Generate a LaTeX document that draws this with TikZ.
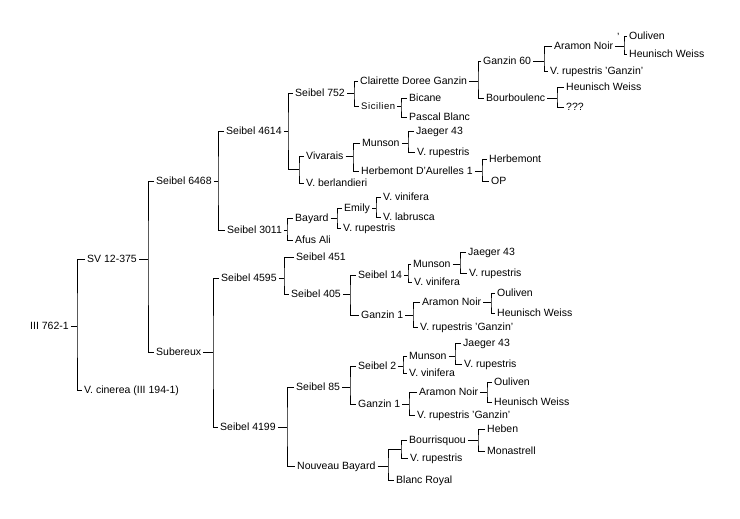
\documentclass[tikz,border=0pt]{standalone}
\usepackage{fontspec}
\setmainfont{Liberation Sans}
\newfontfamily\sicfont[LetterSpace=6]{Liberation Sans}
\newcommand\famtree[4]{\draw[ln] (#1.east) -- (#2); \draw[ln] (#3.west) -| (#2) |- (#4.west);}
\begin{document}
\begin{tikzpicture}[x=1pt,y=-1pt,
 lbl/.style={anchor=west, xshift=-2pt, inner xsep=2pt, inner ysep=0pt, text height=7.5pt, text depth=0pt, font=\fontsize{10.5}{12}\selectfont},
 sic/.style={lbl, font=\sicfont\fontsize{9.5}{11}\selectfont},
 ln/.style={draw=black, line width=0.9pt}]
\fill[white] (0,0) rectangle (740,519);
\useasboundingbox (0,0) rectangle (740,519);
% nodes
\node[lbl] (r) at (30,326) {III 762-1};
\node[lbl] (sv) at (87,259) {SV 12-375};
\node[lbl] (cin) at (84,390) {V. cinerea (III 194-1)};
\node[lbl] (s6468) at (156,181) {Seibel 6468};
\node[lbl] (sub) at (156,352) {Subereux};
\node[lbl] (s4614) at (226,131) {Seibel 4614};
\node[lbl] (s3011) at (227,230) {Seibel 3011};
\node[lbl] (s752) at (295,93) {Seibel 752};
\coordinate (x1) at (299,169);
\node[lbl] (viv) at (306,156) {Vivarais};
\node[lbl] (vber) at (306,183) {V. berlandieri};
\node[lbl] (cdg) at (360,81) {Clairette Doree Ganzin};
\node[sic] (sicn) at (361,106) {Sicilien};
\node[lbl] (g60) at (483,61) {Ganzin 60};
\node[lbl] (bou) at (486,98) {Bourboulenc};
\node[lbl] (an1) at (554,46) {Aramon Noir};
\node[lbl] (vrg1) at (550,71) {V. rupestris 'Ganzin'};
\node[lbl] (ou1) at (629,36) {Ouliven};
\node[lbl] (hw1) at (629,54) {Heunisch Weiss};
\node[lbl] (apos) at (617,37) {'};
\node[lbl] (hw2) at (566,87) {Heunisch Weiss};
\node[lbl] (qqq) at (566,107) {???};
\node[lbl] (bic) at (409,98) {Bicane};
\node[lbl] (pb) at (409,117) {Pascal Blanc};
\node[lbl] (mun1) at (362,143) {Munson};
\node[lbl] (hda) at (361,171) {Herbemont D'Aurelles 1};
\node[lbl] (j1) at (416,131) {Jaeger 43};
\node[lbl] (vr1) at (417,152) {V. rupestris};
\node[lbl] (hb) at (489,159) {Herbemont};
\node[lbl] (op) at (491,181) {OP};
\node[lbl] (bay) at (295,218) {Bayard};
\node[lbl] (afa) at (295,240) {Afus Ali};
\node[lbl] (emi) at (344,208) {Emily};
\node[lbl] (vr2) at (343,228) {V. rupestris};
\node[lbl] (vv1) at (383,197) {V. vinifera};
\node[lbl] (vl) at (383,217) {V. labrusca};
\node[lbl] (s4595) at (221,278) {Seibel 4595};
\node[lbl] (s4199) at (220,427) {Seibel 4199};
\node[lbl] (s451) at (296,257) {Seibel 451};
\node[lbl] (s405) at (291,294) {Seibel 405};
\node[lbl] (s14) at (358,275) {Seibel 14};
\node[lbl] (gz1) at (361,315) {Ganzin 1};
\node[lbl] (mun2) at (413,264) {Munson};
\node[lbl] (vv2) at (414,282) {V. vinifera};
\node[lbl] (j2) at (468,252) {Jaeger 43};
\node[lbl] (vr3) at (469,273) {V. rupestris};
\node[lbl] (an2) at (422,302) {Aramon Noir};
\node[lbl] (vrg2) at (420,327) {V. rupestris 'Ganzin'};
\node[lbl] (ou2) at (497,293) {Ouliven};
\node[lbl] (hw3) at (497,313) {Heunisch Weiss};
\node[lbl] (s85) at (296,387) {Seibel 85};
\node[lbl] (nb) at (297,466) {Nouveau Bayard};
\node[lbl] (s2) at (358,366) {Seibel 2};
\node[lbl] (gz2) at (358,404) {Ganzin 1};
\node[lbl] (mun3) at (409,356) {Munson};
\node[lbl] (vv3) at (409,373) {V. vinifera};
\node[lbl] (j3) at (463,343) {Jaeger 43};
\node[lbl] (vr4) at (464,364) {V. rupestris};
\node[lbl] (an3) at (419,392) {Aramon Noir};
\node[lbl] (vrg3) at (417,415) {V. rupestris 'Ganzin'};
\node[lbl] (ou3) at (494,382) {Ouliven};
\node[lbl] (hw4) at (494,402) {Heunisch Weiss};
\coordinate (x2) at (401,449);
\node[lbl] (br2) at (396,480) {Blanc Royal};
\node[lbl] (bour) at (409,440) {Bourrisquou};
\node[lbl] (vr5) at (410,458) {V. rupestris};
\node[lbl] (heb) at (487,429) {Heben};
\node[lbl] (mon) at (487,451) {Monastrell};
% bracket points
\coordinate (br) at (77,326);
\coordinate (bsv) at (148,259);
\coordinate (b6468) at (218,181);
\coordinate (b4614) at (288,131);
\coordinate (b752) at (354,93);
\coordinate (bcdg) at (478,81);
\coordinate (bg60) at (544,61);
\coordinate (ban1) at (624,46);
\coordinate (bbou) at (557,98);
\coordinate (bsic) at (401,106);
\coordinate (bviv) at (353,156);
\coordinate (bmun1) at (408,143);
\coordinate (bhda) at (482,171);
\coordinate (b3011) at (287,230);
\coordinate (bbay) at (337,218);
\coordinate (bemi) at (376,208);
\coordinate (bsub) at (213,352);
\coordinate (b4595) at (284,278);
\coordinate (b405) at (350,294);
\coordinate (b14) at (408,275);
\coordinate (bmun2) at (460,264);
\coordinate (bgz1) at (413,315);
\coordinate (ban2) at (491,302);
\coordinate (b4199) at (287,427);
\coordinate (b85) at (350,387);
\coordinate (bs2) at (403,366);
\coordinate (bmun3) at (455,356);
\coordinate (bgz2) at (409,404);
\coordinate (ban3) at (487,392);
\coordinate (bnb) at (388,466);
\coordinate (bbour) at (478,440);
% connectors
\famtree{r}{br}{sv}{cin}
\famtree{sv}{bsv}{s6468}{sub}
\famtree{s6468}{b6468}{s4614}{s3011}
\draw[ln] (s4614.east) -- (b4614); \draw[ln] (s752.west) -| (b4614) |- (x1);
\draw[ln] (viv.west) -| (x1) |- (vber.west);
\famtree{s752}{b752}{cdg}{sicn}
\famtree{cdg}{bcdg}{g60}{bou}
\famtree{g60}{bg60}{an1}{vrg1}
\famtree{an1}{ban1}{ou1}{hw1}
\famtree{bou}{bbou}{hw2}{qqq}
\famtree{sicn}{bsic}{bic}{pb}
\famtree{viv}{bviv}{mun1}{hda}
\famtree{mun1}{bmun1}{j1}{vr1}
\famtree{hda}{bhda}{hb}{op}
\famtree{s3011}{b3011}{bay}{afa}
\famtree{bay}{bbay}{emi}{vr2}
\famtree{emi}{bemi}{vv1}{vl}
\famtree{sub}{bsub}{s4595}{s4199}
\famtree{s4595}{b4595}{s451}{s405}
\famtree{s405}{b405}{s14}{gz1}
\famtree{s14}{b14}{mun2}{vv2}
\famtree{mun2}{bmun2}{j2}{vr3}
\famtree{gz1}{bgz1}{an2}{vrg2}
\famtree{an2}{ban2}{ou2}{hw3}
\famtree{s4199}{b4199}{s85}{nb}
\famtree{s85}{b85}{s2}{gz2}
\famtree{s2}{bs2}{mun3}{vv3}
\famtree{mun3}{bmun3}{j3}{vr4}
\famtree{gz2}{bgz2}{an3}{vrg3}
\famtree{an3}{ban3}{ou3}{hw4}
\draw[ln] (nb.east) -- (bnb); \draw[ln] (x2) -| (bnb) |- (br2.west);
\draw[ln] (bour.west) -| (x2) |- (vr5.west);
\famtree{bour}{bbour}{heb}{mon}
\end{tikzpicture}
\end{document}
